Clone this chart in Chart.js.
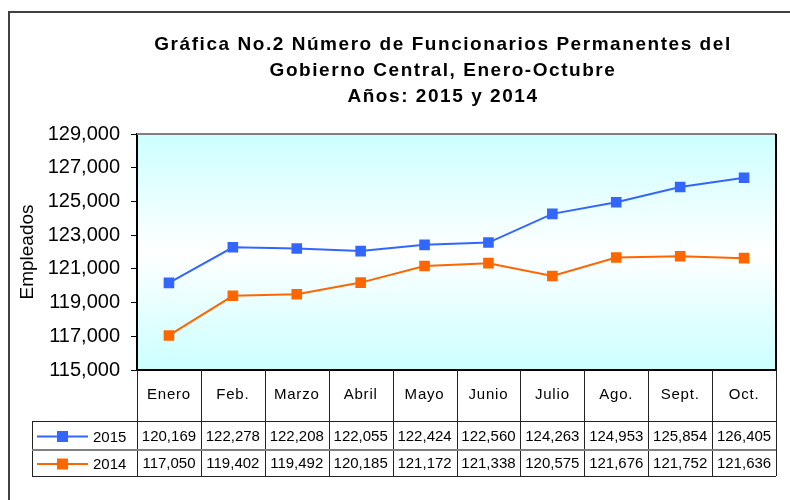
<!DOCTYPE html>
<html>
<head>
<meta charset="utf-8">
<script src="https://cdn.jsdelivr.net/npm/chart.js@4/dist/chart.umd.min.js"></script>
<style>
  html, body { margin: 0; padding: 0; background: #fff; }
  canvas { display: block; }
</style>
</head>
<body>
<canvas id="grafica" width="790" height="500"></canvas>
<script>
const meses = ["Enero", "Feb.", "Marzo", "Abril", "Mayo", "Junio", "Julio", "Ago.", "Sept.", "Oct."];
const datos2015 = [120169, 122278, 122208, 122055, 122424, 122560, 124263, 124953, 125854, 126405];
const datos2014 = [117050, 119402, 119492, 120185, 121172, 121338, 120575, 121676, 121752, 121636];
const series = ["2015", "2014"];
const colores = ["#3366ff", "#ff6600"];
const titulo = [
  "Gráfica No.2 Número de Funcionarios Permanentes del",
  "Gobierno Central, Enero-Octubre",
  "Años: 2015 y 2014",
];
const yMin = 115000;
const yMax = 129000;
const yPaso = 2000;

const fuente = "'Liberation Sans', Arial, sans-serif";
const fmt = (v) => v.toLocaleString("en-US");

// fondo degradado, titulo y tabla de datos
const tablaPlugin = {
  id: "tabla",
  beforeDraw(chart) {
    const { ctx, chartArea: a } = chart;
    ctx.save();
    const g = ctx.createLinearGradient(0, a.top, 0, a.bottom);
    g.addColorStop(0, "#ccffff");
    g.addColorStop(0.5, "#ffffff");
    g.addColorStop(1, "#ccffff");
    ctx.fillStyle = g;
    ctx.fillRect(a.left, a.top, a.right - a.left, a.bottom - a.top);

    // marco exterior
    ctx.strokeStyle = "#404040";
    ctx.lineWidth = 2;
    ctx.strokeRect(9, 12, 800, 500);

    // titulo
    ctx.fillStyle = "#000";
    ctx.font = "bold 19px " + fuente;
    ctx.letterSpacing = "1.55px";
    ctx.textAlign = "center";
    ctx.textBaseline = "middle";
    titulo.forEach((t, i) => ctx.fillText(t, 443, 45 + i * 26));
    ctx.restore();
  },
  afterDraw(chart) {
    const { ctx, chartArea: a } = chart;
    const x = chart.scales.x;
    const n = meses.length;
    const w = (a.right - a.left) / n;
    const filaCat = a.bottom + 51;
    const fila1 = filaCat + 29;
    const fila2 = fila1 + 26;
    const izq = 32;

    ctx.save();
    // borde del area
    ctx.strokeStyle = "#808080";
    ctx.lineWidth = 2;
    ctx.beginPath();
    ctx.moveTo(a.left, a.top);
    ctx.lineTo(a.right, a.top);
    ctx.stroke();
    ctx.strokeStyle = "#000";
    ctx.beginPath();
    ctx.moveTo(a.right, a.top);
    ctx.lineTo(a.right, a.bottom);
    ctx.lineTo(a.left, a.bottom);
    ctx.stroke();

    // lineas de la tabla
    ctx.lineWidth = 1;
    ctx.strokeStyle = "#222";
    ctx.beginPath();
    for (let i = 0; i <= n; i++) {
      const xx = Math.round(a.left + i * w) + 0.5;
      ctx.moveTo(xx, a.bottom);
      ctx.lineTo(xx, fila2);
    }
    ctx.moveTo(izq + 0.5, filaCat);
    ctx.lineTo(izq + 0.5, fila2);
    ctx.moveTo(izq, filaCat + 0.5);
    ctx.lineTo(a.right, filaCat + 0.5);
    ctx.moveTo(izq, fila2 + 0.5);
    ctx.lineTo(a.right, fila2 + 0.5);
    ctx.stroke();
    ctx.strokeStyle = "#808080";
    ctx.lineWidth = 2;
    ctx.beginPath();
    ctx.moveTo(izq, fila1);
    ctx.lineTo(a.right, fila1);
    ctx.stroke();

    // textos
    ctx.fillStyle = "#000";
    ctx.textBaseline = "middle";
    ctx.textAlign = "center";
    ctx.font = "15px " + fuente;
    ctx.letterSpacing = "0.8px";
    meses.forEach((m, i) => ctx.fillText(m, x.getPixelForValue(i), a.bottom + 25));
    ctx.letterSpacing = "0px";
    const filas = [datos2015, datos2014];
    filas.forEach((d, j) => {
      const cy = j === 0 ? (filaCat + fila1) / 2 + 1 : (fila1 + fila2) / 2 + 1;
      d.forEach((v, i) => ctx.fillText(fmt(v), x.getPixelForValue(i), cy));
      // leyenda
      ctx.strokeStyle = colores[j];
      ctx.lineWidth = 2;
      ctx.beginPath();
      ctx.moveTo(37, cy);
      ctx.lineTo(88, cy);
      ctx.stroke();
      ctx.fillStyle = colores[j];
      ctx.fillRect(57, cy - 5.5, 11, 11);
      ctx.fillStyle = "#000";
      ctx.textAlign = "left";
      ctx.fillText(series[j], 93, cy + 1);
      ctx.textAlign = "center";
    });
    ctx.restore();
  },
};

const config = {
  type: "line",
  data: {
    labels: meses,
    datasets: series.map((s, j) => ({
      label: s,
      data: j === 0 ? datos2015 : datos2014,
      borderColor: colores[j],
      backgroundColor: colores[j],
      borderWidth: 2,
      pointStyle: "rect",
      pointRadius: 7.5,
      pointBorderWidth: 0,
      tension: 0,
    })),
  },
  options: {
    responsive: false,
    animation: false,
    layout: { padding: { top: 134, right: 14, bottom: 130, left: 0 } },
    plugins: {
      legend: { display: false },
      title: { display: false },
      tooltip: { enabled: false },
    },
    scales: {
      x: { display: false, offset: true },
      y: {
        min: yMin,
        max: yMax,
        afterFit: (s) => { s.width = 137; },
        border: { display: true, color: "#000", width: 2 },
        grid: { drawOnChartArea: false, drawTicks: true, tickLength: 6, color: "#000" },
        ticks: {
          stepSize: yPaso,
          padding: 11,
          color: "#000",
          font: { family: fuente, size: 20 },
          callback: (v) => fmt(v),
        },
        title: {
          display: true,
          text: "Empleados",
          color: "#000",
          font: { family: fuente, size: 19 },
          padding: { top: 16, bottom: 0 },
        },
      },
    },
  },
  plugins: [tablaPlugin],
};

new Chart(document.getElementById("grafica"), config);
</script>
</body>
</html>
